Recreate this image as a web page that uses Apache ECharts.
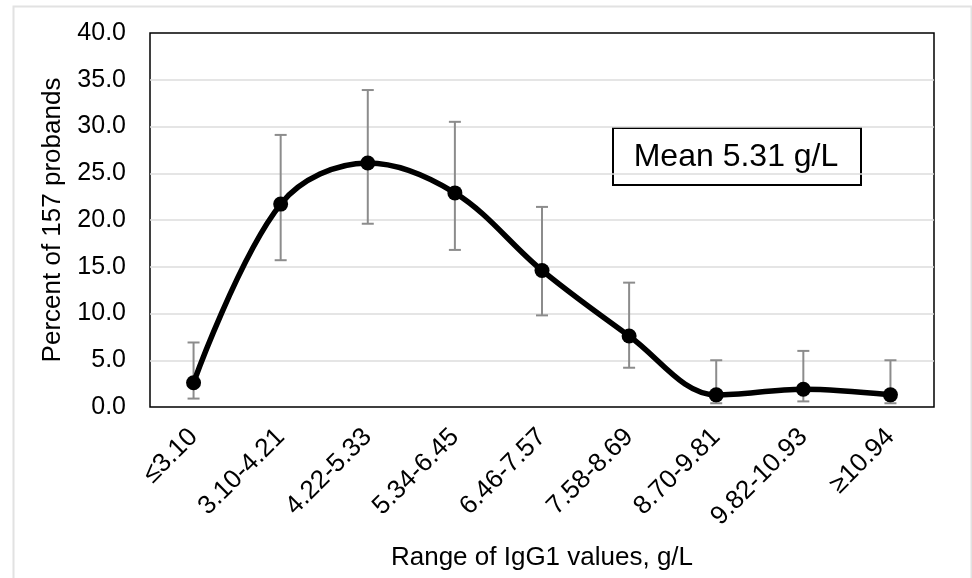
<!DOCTYPE html>
<html lang="en">

<head>
    <meta charset="UTF-8" />
    <script src="https://cdn.jsdelivr.net/npm/echarts@6/dist/echarts.min.js"></script>
    <title>IgG1 distribution</title>
    <style>
        html, body { margin: 0; padding: 0; background: #fff; }
        #chart { width: 972px; height: 578px; }
    </style>
</head>

<body>
    <div id="chart"></div>
    <script>
        // categories (IgG1 ranges, g/L)
        var ranges = ["≤3.10", "3.10-4.21", "4.22-5.33", "5.34-6.45", "6.46-7.57",
            "7.58-8.69", "8.70-9.81", "9.82-10.93", "≥10.94"];
        // percent of probands in each range
        var percent = [2.6, 21.7, 26.1, 22.9, 14.6, 7.6, 1.3, 1.9, 1.3];
        // error bar ends
        var errLow = [0.9, 15.7, 19.6, 16.8, 9.8, 4.2, 0.4, 0.6, 0.4];
        var errHigh = [6.9, 29.1, 33.9, 30.5, 21.4, 13.3, 5.0, 6.0, 5.0];
        var meanText = "Mean 5.31 g/L";

        var font = "'Liberation Sans', Arial, Helvetica, sans-serif";

        var errData = [];
        for (var i = 0; i < ranges.length; i++) {
            errData.push([i, errLow[i], errHigh[i]]);
        }

        var myChart = echarts.init(document.getElementById("chart"));
        var option = {
            animation: false,
            grid: {
                left: 150, right: 38, top: 33, bottom: 171,
                show: true, borderColor: "#000", borderWidth: 1.5
            },
            xAxis: {
                type: "category",
                data: ranges,
                boundaryGap: true,
                axisLine: { show: false },
                axisTick: { show: false },
                axisLabel: {
                    rotate: 45, margin: 26, interval: 0,
                    color: "#000", fontSize: 26, fontFamily: font
                },
                name: "Range of IgG1 values, g/L",
                nameLocation: "middle",
                nameGap: 138,
                nameTextStyle: { color: "#000", fontSize: 26, fontFamily: font }
            },
            yAxis: {
                type: "value",
                min: 0, max: 40, interval: 5,
                axisLine: { show: false },
                axisTick: { show: false },
                splitLine: {
                    showMinLine: false, showMaxLine: false,
                    lineStyle: { color: "#dcdcdc", width: 1.5 }
                },
                axisLabel: {
                    margin: 24, color: "#000", fontSize: 25, fontFamily: font,
                    formatter: function (v) { return v.toFixed(1); }
                },
                name: "Percent of 157 probands",
                nameLocation: "middle",
                nameGap: 84,
                nameTextStyle: { color: "#000", fontSize: 26, fontFamily: font }
            },
            series: [
                {
                    type: "custom",
                    data: errData,
                    z: 1,
                    renderItem: function (params, api) {
                        var x = api.value(0);
                        var lo = api.coord([x, api.value(1)]);
                        var hi = api.coord([x, api.value(2)]);
                        var w = 6;
                        var st = { stroke: "#8c8c8c", lineWidth: 2 };
                        return {
                            type: "group",
                            children: [
                                { type: "line", shape: { x1: lo[0], y1: lo[1], x2: hi[0], y2: hi[1] }, style: st },
                                { type: "line", shape: { x1: lo[0] - w, y1: lo[1], x2: lo[0] + w, y2: lo[1] }, style: st },
                                { type: "line", shape: { x1: hi[0] - w, y1: hi[1], x2: hi[0] + w, y2: hi[1] }, style: st }
                            ]
                        };
                    }
                },
                {
                    type: "line",
                    data: percent,
                    z: 3,
                    smooth: 0.35,
                    symbol: "circle",
                    symbolSize: 15,
                    itemStyle: { color: "#000" },
                    lineStyle: { color: "#000", width: 5.5 }
                }
            ],
            graphic: [
                {
                    type: "rect",
                    left: 11, top: 4,
                    shape: { width: 958, height: 600 },
                    style: { fill: "none", stroke: "#e2e2e2", lineWidth: 2 },
                    silent: true
                },
                {
                    type: "group",
                    left: 612, top: 127,
                    children: [
                        {
                            type: "rect",
                            shape: { width: 248, height: 57 },
                            style: { fill: "#fff", stroke: "#000", lineWidth: 2 }
                        },
                        {
                            type: "text",
                            x: 123, y: 29,
                            style: {
                                text: meanText, fill: "#000",
                                font: "32px " + font,
                                align: "center", verticalAlign: "middle"
                            }
                        }
                    ]
                }
            ]
        };
        myChart.setOption(option);
    </script>
</body>

</html>
